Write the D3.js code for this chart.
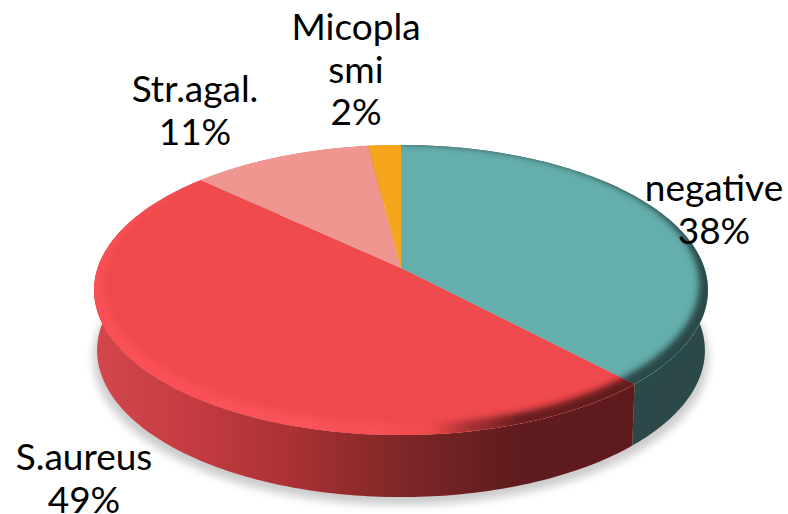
<!DOCTYPE html>
<html lang="en">
  <head>
    <meta charset="UTF-8" />
    <title>Pie</title>
    <script src="https://cdn.jsdelivr.net/npm/d3@7"></script>
    <style>
      body { margin: 0; background: #fff; }
      text { font-family: Lato, sans-serif; font-size: 37px; fill: #000; text-anchor: middle; }
    </style>
  </head>
  <body>
    <svg id="container" width="788" height="514"></svg>
    <script>
      let categories = ["negative", "S.aureus", "Str.agal.", "Micoplasmi"];
      let values = [38, 49, 11, 2];
      let labelLines = [["negative"], ["S.aureus"], ["Str.agal."], ["Micopla", "smi"]];

      let sliceColors = ["#64aeac", "#ef4a4c", "#ef9690", "#f6a61c"];

      // label centre x and first baseline y, one for each category
      let labelX = [714, 84, 195, 356];
      let labelY = [201, 470, 102, 40];
      let lineHeight = 42.5;

      // the pie is a disc seen in perspective, so the apex sits above the middle of the ellipse
      let cx = 401, apexY = 268, ax = 303.4, ay = 141.7, k = -0.152, depth = 60;

      let svg = d3.select("#container");
      let defs = svg.append("defs");

      function rimPoint(angle) {
        let u = Math.sin(angle), v = -Math.cos(angle);
        let w = 1 + k * v;
        return [cx + (ax * u) / w, apexY + (ay * v) / w];
      }

      // bottom rim is a bit narrower than the top one and drops more at the front
      function lowerPoint(angle) {
        let p = rimPoint(angle);
        return [cx + (p[0] - cx) * 0.99, p[1] + depth - 2 * Math.cos(angle)];
      }

      function sample(fn, a0, a1) {
        let n = Math.max(2, Math.ceil((a1 - a0) * 60));
        return d3.range(n + 1).map((i) => fn(a0 + ((a1 - a0) * i) / n));
      }

      let line = d3.line().curve(d3.curveLinear);
      let arcs = d3.pie().sort(null)(values);
      let discPts = sample(rimPoint, 0, 2 * Math.PI);

      defs.append("filter").attr("id", "shadowBlur")
        .attr("x", "-10%").attr("y", "-10%").attr("width", "120%").attr("height", "120%")
        .append("feGaussianBlur").attr("stdDeviation", 4);
      defs.append("filter").attr("id", "rimBlur")
        .attr("x", "-5%").attr("y", "-5%").attr("width", "110%").attr("height", "110%")
        .append("feGaussianBlur").attr("stdDeviation", 3);
      defs.append("clipPath").attr("id", "discClip")
        .append("path").attr("d", line(discPts) + "Z");

      function gradient(id, stops) {
        let g = defs.append("linearGradient").attr("id", id)
          .attr("gradientUnits", "userSpaceOnUse")
          .attr("x1", 94).attr("x2", 708).attr("y1", 0).attr("y2", 0);
        stops.forEach((s) => {
          g.append("stop").attr("offset", (s[0] - 94) / 614).attr("stop-color", s[1]);
        });
      }

      gradient("wallRed", [[94, "#d3464c"], [200, "#c23b40"], [300, "#a83034"], [340, "#962c2e"], [400, "#802728"], [470, "#6b2022"], [520, "#5f1b1d"], [708, "#5e1a1c"]]);
      gradient("rimRed", [[94, "#fb4f57"], [300, "#fb5259"], [380, "#f74f54"], [430, "#ef4a4c"], [470, "#a83034"], [520, "#6a1e20"], [708, "#5e1a1c"]]);

      let wallFill = ["#2a4948", "url(#wallRed)", "#c9767a", "#b87a10"];
      let rimFill = ["#2a4948", "url(#rimRed)", "#ef9690", "#f6a61c"];

      // soft shadow under the bottom rim
      svg.append("path")
        .attr("d", line(sample(lowerPoint, 0, 2 * Math.PI).map((p) => [cx + (p[0] - cx) * 1.012, p[1] + 8])) + "Z")
        .attr("fill", "#000")
        .attr("opacity", 0.2)
        .attr("filter", "url(#shadowBlur)");

      // side wall, the back part gets covered by the top face
      svg.selectAll("path.wall")
        .data(arcs)
        .enter()
        .append("path")
        .attr("class", "wall")
        .attr("fill", (d) => wallFill[d.index])
        .attr("d", (d) => {
          let top = sample(rimPoint, d.startAngle, d.endAngle);
          let bottom = sample(lowerPoint, d.startAngle, d.endAngle).reverse();
          return line(top.concat(bottom)) + "Z";
        });

      // top face
      function slicePath(d) {
        return line([[cx, apexY]].concat(sample(rimPoint, d.startAngle, d.endAngle))) + "Z";
      }

      svg.selectAll("path.slice")
        .data(arcs)
        .enter()
        .append("path")
        .attr("class", "slice")
        .attr("fill", (d) => sliceColors[d.index])
        .attr("d", slicePath);

      // bevel: a crescent along the lower rim, blurred and clipped per slice
      let pad = "M60,100H740V480H60Z";
      let inner = "M103,284A298,140 0 1,0 699,284A298,140 0 1,0 103,284Z";

      let bevel = svg.append("g").attr("clip-path", "url(#discClip)");
      arcs.forEach((d) => {
        defs.append("clipPath").attr("id", "sliceClip" + d.index)
          .append("path").attr("d", slicePath(d));
        bevel.append("g")
          .attr("clip-path", "url(#sliceClip" + d.index + ")")
          .append("path")
          .attr("d", pad + inner)
          .attr("fill-rule", "evenodd")
          .attr("fill", rimFill[d.index])
          .attr("filter", "url(#rimBlur)");
      });

      // labels
      arcs.forEach((d) => {
        let i = d.index;
        let lines = labelLines[i].concat([Math.round((values[i] / d3.sum(values)) * 100) + "%"]);
        let t = svg.append("text").attr("aria-label", categories[i]);
        lines.forEach((s, j) => {
          t.append("tspan")
            .attr("x", labelX[i])
            .attr("y", labelY[i] + j * lineHeight)
            .text(s);
        });
      });
    </script>
  </body>
</html>
